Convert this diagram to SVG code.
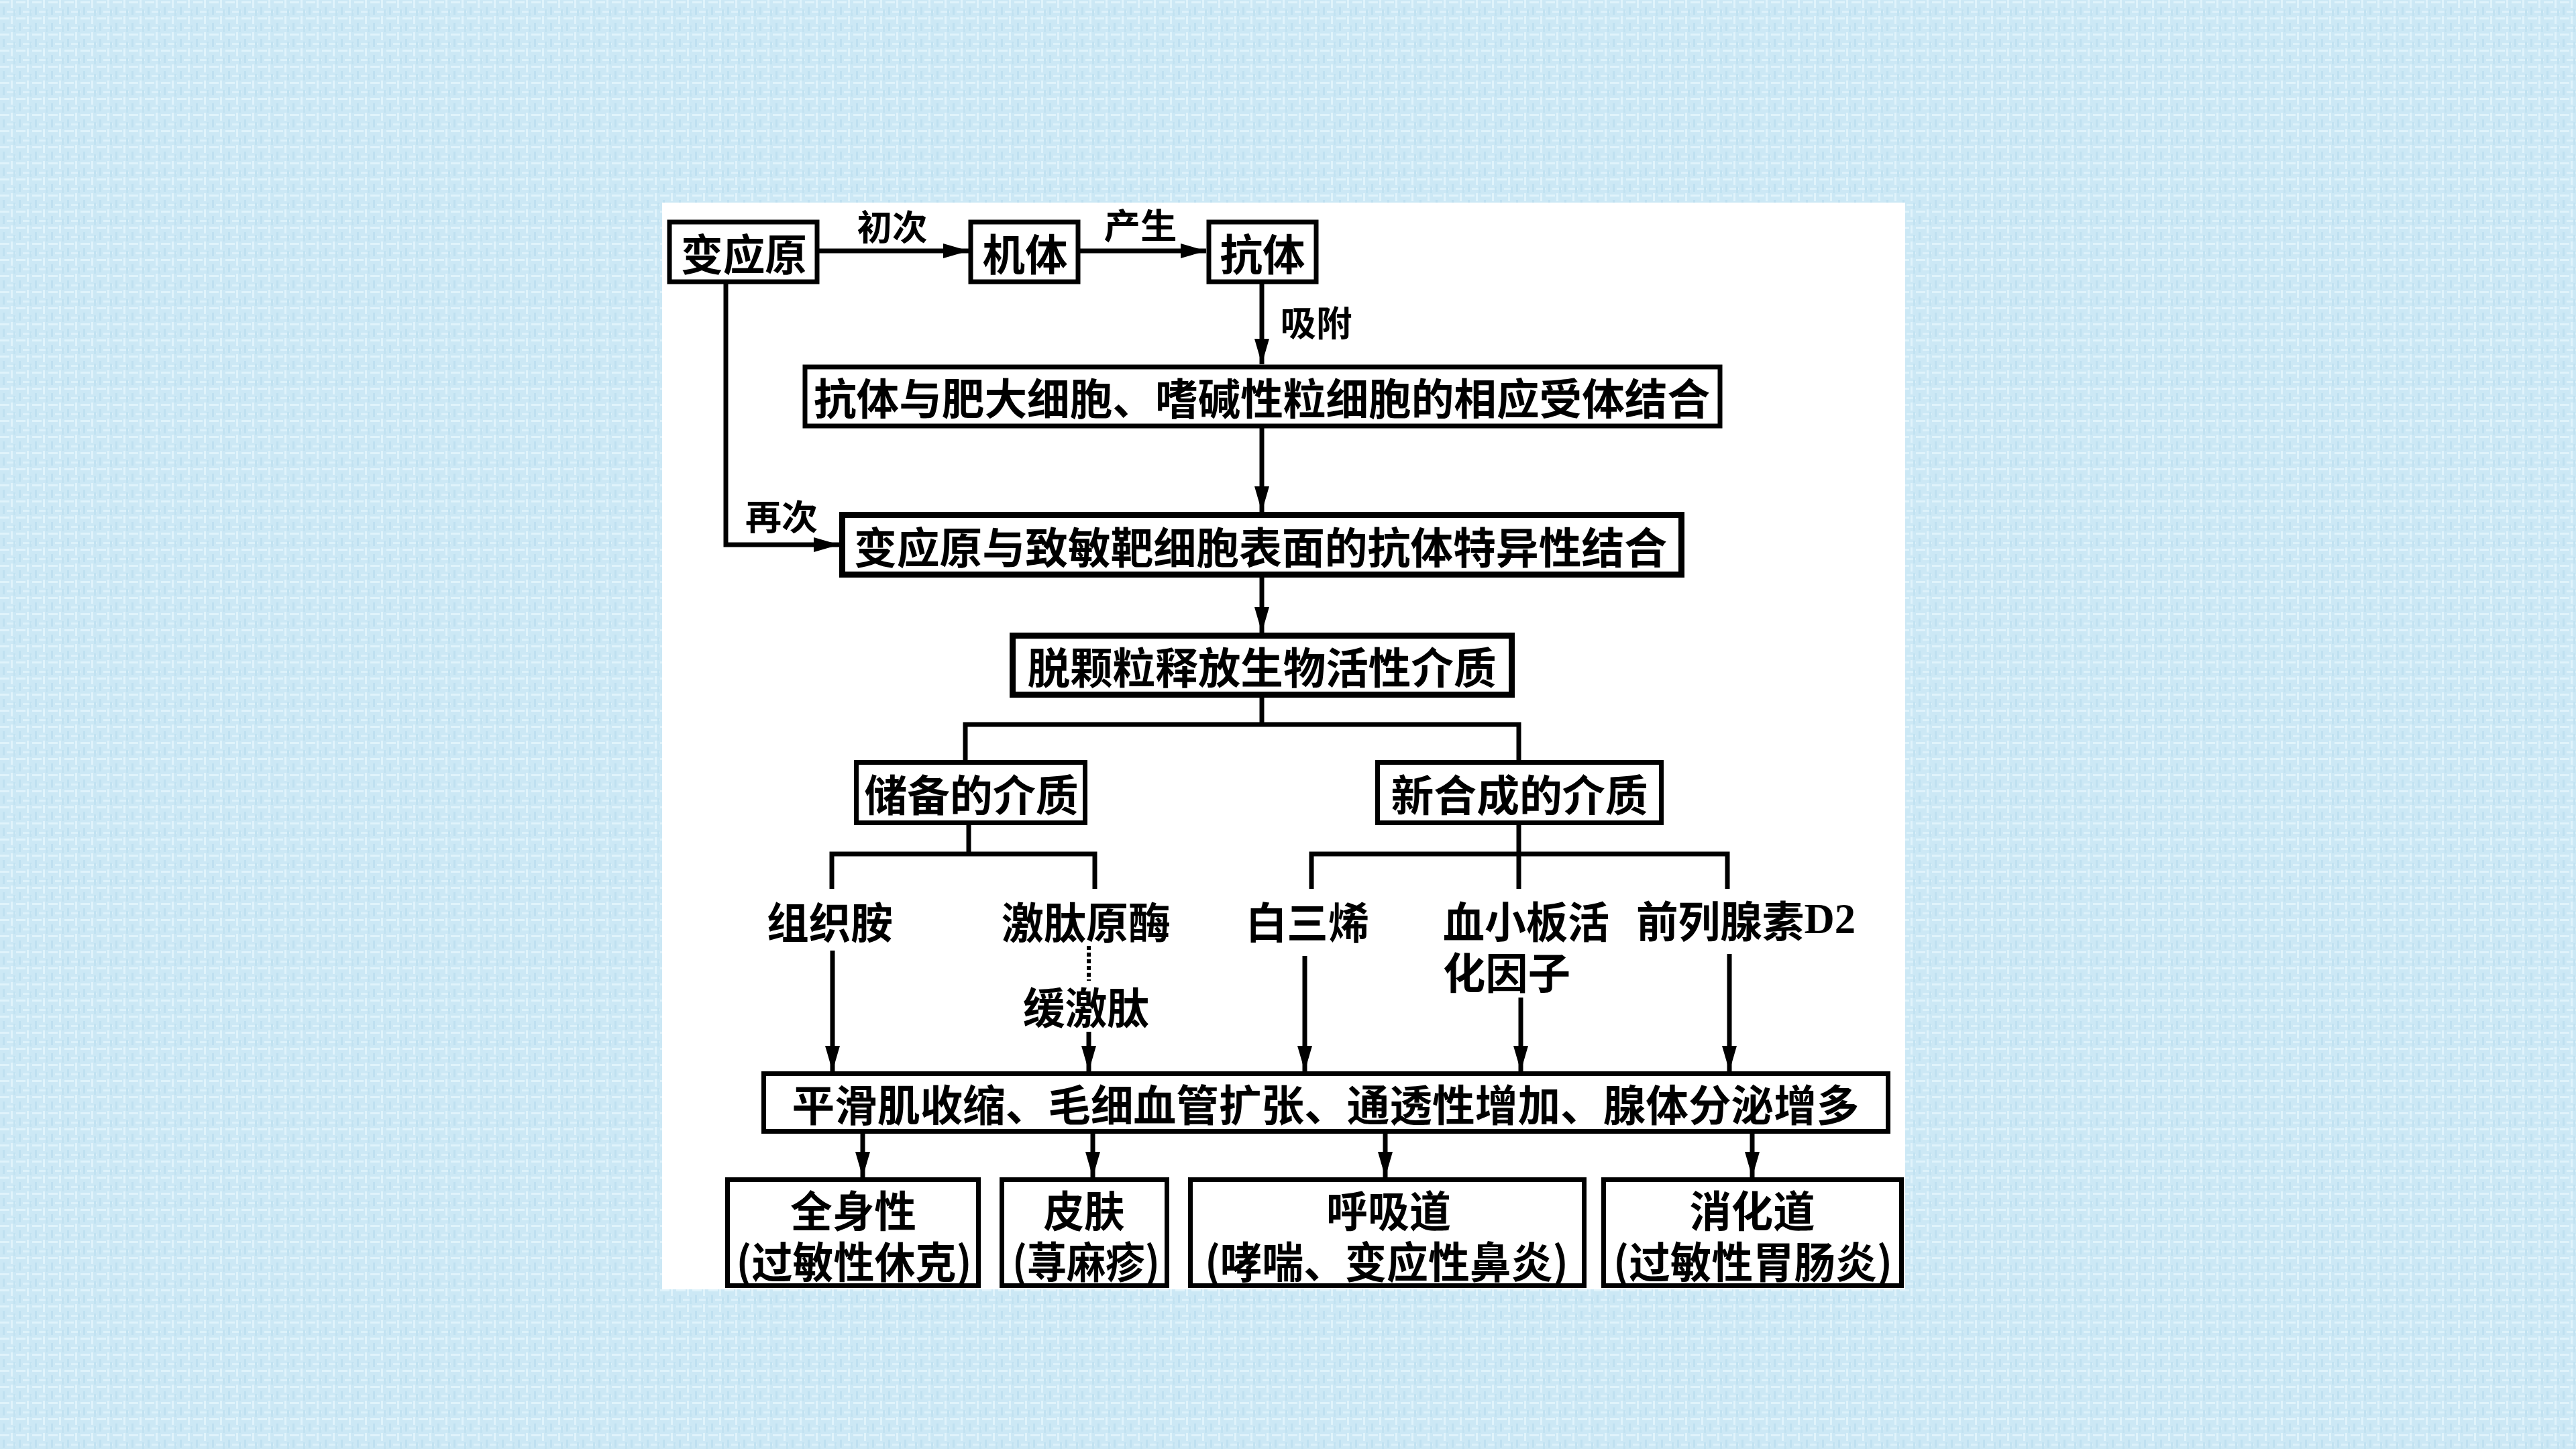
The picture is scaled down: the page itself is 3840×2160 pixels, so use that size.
<svg xmlns="http://www.w3.org/2000/svg" width="3840" height="2160" viewBox="0 0 3840 2160">
<defs>
<pattern id="bg" x="0" y="0" width="24" height="24" patternUnits="userSpaceOnUse">
<rect width="24" height="24" fill="#cce8f5"/>
<rect x="0" y="2" width="14" height="3" fill="#e0f3fb"/>
<rect x="16" y="0" width="3" height="12" fill="#e0f3fb"/>
<rect x="4" y="10" width="3" height="12" fill="#bfe0f0"/>
<rect x="10" y="16" width="14" height="3" fill="#dcf1fa"/>
<rect x="20" y="14" width="3" height="10" fill="#c2e2f1"/>
</pattern>
<marker id="ah" markerUnits="userSpaceOnUse" markerWidth="38" markerHeight="22" refX="38" refY="11" orient="auto">
<path d="M0,0 L38,11 L0,22 Z" fill="#000"/>
</marker>
<style>
.box{fill:#fff;stroke:#000;stroke-width:7}
.bx{fill:#fff;stroke:#000;stroke-width:9}
.ln{fill:none;stroke:#000;stroke-width:7}
.ar{fill:none;stroke:#000;stroke-width:7;marker-end:url(#ah)}
.t{font-family:"Noto Sans CJK SC","Noto Sans CJK TC",sans-serif;font-size:64px;font-weight:600;fill:#000;text-anchor:middle;dominant-baseline:central}
.s{font-size:52px}
.l{text-anchor:start}
</style>
</defs>
<rect width="3840" height="2160" fill="url(#bg)"/>
<rect x="987" y="302" width="1853" height="1620" fill="#fff"/>

<g id="connectors">
<line class="ar" x1="1221" y1="374" x2="1444" y2="374"/>
<line class="ar" x1="1610" y1="374" x2="1798" y2="374"/>
<line class="ar" x1="1881" y1="423" x2="1881" y2="543"/>
<polyline class="ar" points="1082,423 1082,812 1251,812"/>
<line class="ar" x1="1881" y1="638" x2="1881" y2="763"/>
<line class="ar" x1="1881" y1="861" x2="1881" y2="943"/>
<polyline class="ln" points="1881,1040 1881,1080"/>
<polyline class="ln" points="1439,1133 1439,1080 2264,1080 2264,1133"/>
<line class="ln" x1="1444" y1="1230" x2="1444" y2="1273"/>
<polyline class="ln" points="1240,1325 1240,1273 1632,1273 1632,1325"/>
<line class="ln" x1="2264" y1="1230" x2="2264" y2="1325"/>
<polyline class="ln" points="1955,1325 1955,1273 2575,1273 2575,1325"/>
<line class="ar" x1="1241" y1="1417" x2="1241" y2="1597"/>
<line class="ar" x1="1623" y1="1538" x2="1623" y2="1597"/>
<line class="ar" x1="1945" y1="1425" x2="1945" y2="1597"/>
<line class="ar" x1="2267" y1="1487" x2="2267" y2="1597"/>
<line class="ar" x1="2578" y1="1422" x2="2578" y2="1597"/>
<line x1="1623" y1="1410" x2="1623" y2="1462" stroke="#000" stroke-width="6" stroke-dasharray="6,4"/>
<line class="ar" x1="1286" y1="1690" x2="1286" y2="1755"/>
<line class="ar" x1="1629" y1="1690" x2="1629" y2="1755"/>
<line class="ar" x1="2065" y1="1690" x2="2065" y2="1755"/>
<line class="ar" x1="2612" y1="1690" x2="2612" y2="1755"/>
<text class="t s" x="1330" y="335" textLength="105" lengthAdjust="spacingAndGlyphs">初次</text>
<text class="t s" x="1700" y="333" textLength="109" lengthAdjust="spacingAndGlyphs">产生</text>
<text class="t s" x="1962" y="478" textLength="107" lengthAdjust="spacingAndGlyphs">吸附</text>
<text class="t s" x="1165" y="767" textLength="108" lengthAdjust="spacingAndGlyphs">再次</text>
</g>

<g id="n-allergen">
<rect class="box" x="998" y="331" width="220" height="89"/>
<text class="t" x="1109" y="375" textLength="188" lengthAdjust="spacingAndGlyphs">变应原</text>
</g>
<g id="n-body">
<rect class="box" x="1447" y="331" width="160" height="89"/>
<text class="t" x="1528" y="375" textLength="127" lengthAdjust="spacingAndGlyphs">机体</text>
</g>
<g id="n-antibody">
<rect class="box" x="1802" y="331" width="160" height="89"/>
<text class="t" x="1882" y="375" textLength="127" lengthAdjust="spacingAndGlyphs">抗体</text>
</g>
<g id="n-bind1">
<rect class="box" x="1200" y="547" width="1364" height="88"/>
<text class="t" x="1881" y="590" textLength="1336" lengthAdjust="spacingAndGlyphs">抗体与肥大细胞、嗜碱性粒细胞的相应受体结合</text>
</g>
<g id="n-bind2">
<rect class="bx" x="1255.5" y="767.5" width="1251" height="89"/>
<text class="t" x="1879" y="812" textLength="1212" lengthAdjust="spacingAndGlyphs">变应原与致敏靶细胞表面的抗体特异性结合</text>
</g>
<g id="n-degran">
<rect class="bx" x="1509.5" y="947.5" width="744" height="88"/>
<text class="t" x="1881" y="991" textLength="699" lengthAdjust="spacingAndGlyphs">脱颗粒释放生物活性介质</text>
</g>
<g id="n-stored">
<rect class="box" x="1276.5" y="1136.5" width="341" height="90"/>
<text class="t" x="1448" y="1181" textLength="319" lengthAdjust="spacingAndGlyphs">储备的介质</text>
</g>
<g id="n-new">
<rect class="box" x="2053.5" y="1136.5" width="423" height="90"/>
<text class="t" x="2265" y="1181" textLength="383" lengthAdjust="spacingAndGlyphs">新合成的介质</text>
</g>
<g id="n-histamine">
<text class="t" x="1237" y="1371" textLength="188" lengthAdjust="spacingAndGlyphs">组织胺</text>
</g>
<g id="n-kallikrein">
<text class="t" x="1619" y="1371" textLength="252" lengthAdjust="spacingAndGlyphs">激肽原酶</text>
</g>
<g id="n-bradykinin">
<text class="t" x="1619" y="1498" textLength="188" lengthAdjust="spacingAndGlyphs">缓激肽</text>
</g>
<g id="n-leukotriene">
<text class="t" x="1949" y="1371" textLength="184" lengthAdjust="spacingAndGlyphs">白三烯</text>
</g>
<g id="n-paf">
<text class="t l" x="2151" y="1370" textLength="248" lengthAdjust="spacingAndGlyphs">血小板活</text>
<text class="t l" x="2151" y="1446" textLength="190" lengthAdjust="spacingAndGlyphs">化因子</text>
</g>
<g id="n-pgd2">
<text class="t l" x="2439" y="1369" textLength="327" lengthAdjust="spacingAndGlyphs">前列腺素<tspan font-family="Liberation Serif, serif">D2</tspan></text>
</g>
<g id="n-effects">
<rect class="box" x="1138.5" y="1600.5" width="1676" height="86"/>
<text class="t" x="1976" y="1643" textLength="1591" lengthAdjust="spacingAndGlyphs">平滑肌收缩、毛细血管扩张、通透性增加、腺体分泌增多</text>
</g>
<g id="n-systemic">
<rect class="box" x="1084.5" y="1758.5" width="374" height="158"/>
<text class="t" x="1272" y="1801" textLength="188" lengthAdjust="spacingAndGlyphs">全身性</text>
<text class="t" x="1273" y="1877" textLength="351" lengthAdjust="spacingAndGlyphs">(过敏性休克)</text>
</g>
<g id="n-skin">
<rect class="box" x="1493.5" y="1758.5" width="246" height="158"/>
<text class="t" x="1616" y="1801" textLength="121" lengthAdjust="spacingAndGlyphs">皮肤</text>
<text class="t" x="1619" y="1877" textLength="220" lengthAdjust="spacingAndGlyphs">(荨麻疹)</text>
</g>
<g id="n-resp">
<rect class="box" x="1774.5" y="1758.5" width="587" height="158"/>
<text class="t" x="2070" y="1801" textLength="186" lengthAdjust="spacingAndGlyphs">呼吸道</text>
<text class="t" x="2067" y="1877" textLength="542" lengthAdjust="spacingAndGlyphs">(哮喘、变应性鼻炎)</text>
</g>
<g id="n-digest">
<rect class="box" x="2390.5" y="1758.5" width="444" height="158"/>
<text class="t" x="2612" y="1801" textLength="187" lengthAdjust="spacingAndGlyphs">消化道</text>
<text class="t" x="2613" y="1877" textLength="416" lengthAdjust="spacingAndGlyphs">(过敏性胃肠炎)</text>
</g>
</svg>
